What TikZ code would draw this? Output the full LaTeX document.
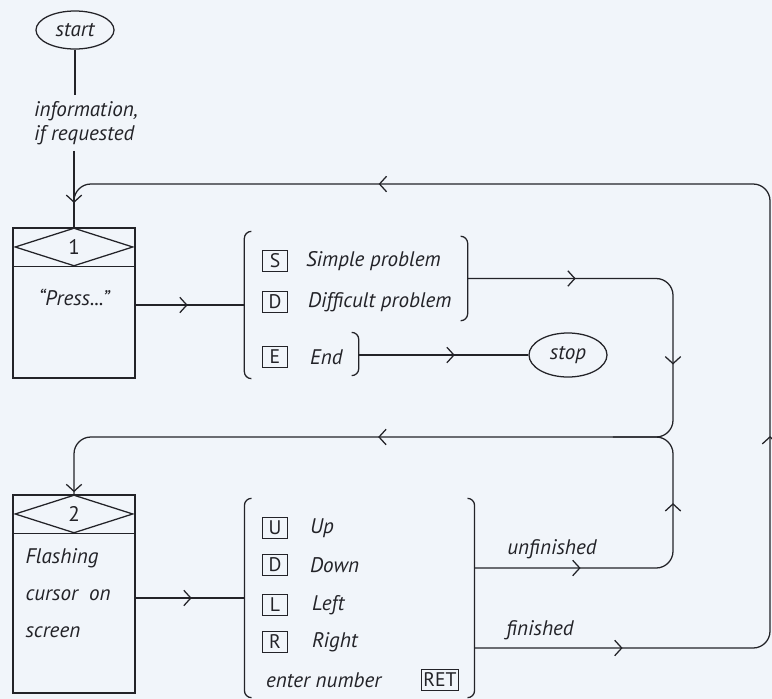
\documentclass[tikz,border=0pt]{standalone}
\usepackage{fontspec}
\setmainfont{PT Sans}
\usetikzlibrary{positioning, calc, shapes.geometric, arrows.meta, decorations.markings}
\definecolor{clInk}  {RGB}{ 35, 35, 40}
\definecolor{clPaper}{RGB}{241,245,250}
\tikzset{
  base/.style={
    font=\fontsize{15}{17}\selectfont\itshape, text=clInk
  },
  term/.style={
    base, ellipse, draw=clInk,
    minimum width=1.95cm, minimum height=0.95cm, inner sep=0pt
  },
  screen/.style={
    rectangle, draw=clInk, minimum width=3.05cm
  },
  choice/.style={
    diamond, draw=clInk, text=clInk, font=\fontsize{15}{17}\selectfont,
    minimum width=2.95cm, minimum height=0.95cm, inner sep=0pt
  },
  key/.style={
    rectangle, draw=clInk, text=clInk, font=\fontsize{14}{16}\selectfont,
    minimum width=0.62cm, minimum height=0.53cm, inner sep=1.5pt
  },
  lbl/.style={
    base, inner sep=1pt
  },
  menu/.style={
    rectangle, inner sep=0pt
  },
  line/.style={
    draw=clInk, line width=0.9pt
  },
  brk/.style={
    line, rounded corners=5pt
  },
  tipat/.style={
    postaction={decorate, decoration={markings,
      mark=at position #1 with {\arrow{Straight Barb[length=5pt, width=11pt]}}}}
  }
}

\begin{document}
\begin{tikzpicture}[x=0.025cm, y=-0.025cm, line width=0.9pt]

    % paper
    \fill [clPaper] (0,0) rectangle (772,699);
    \useasboundingbox (0,0) rectangle (772,699);

    % ============================================================
    % LANES FOR THE LOOPS
    % ============================================================
    \coordinate (laneR)  at (673,0);
    \coordinate (laneO)  at (770,0);
    \coordinate (rowTop) at (0,184);
    \coordinate (rowMid) at (0,437);
    \coordinate (rowUn)  at (0,568);
    \coordinate (rowFin) at (0,648);

    % ============================================================
    % START AND SCREEN 1
    % ============================================================
    \node (start) [term] at (75,30) {start};

    \node (info) [lbl, align=left, inner sep=4pt] at (86,123) {
      information,\\
      if requested
    };

    \node (box1) [screen, minimum height=3.75cm] at (74,303) {};
    \node (dia1) [choice, below=0pt of box1.north] {1};
    \node (press) [lbl, below=0.5cm of dia1] {“Press...”};

    % ============================================================
    % MENU 1
    % ============================================================
    \node (menu1)  [menu, minimum width=5.55cm, minimum height=3.65cm] at (356,305) {};
    \node (menuSD) [menu, minimum width=5.55cm, minimum height=2.08cm] at (356,278.5) {};
    \node (menuE)  [menu, minimum width=2.83cm, minimum height=1.05cm] at (301.5,354) {};

    \node (keyS) [key] at (275,261) {S};
    \node (keyD) [key] at (275,302) {D};
    \node (keyE) [key] at (275,357) {E};
    \node (simple)  [lbl, right=0.4cm of keyS] {Simple problem};
    \node (hard)    [lbl, right=0.45cm of keyD] {Difficult problem};
    \node (finish)  [lbl, right=0.5cm of keyE] {End};

    \node (stop) [term, minimum height=1.1cm] at (568,355) {stop};

    % ============================================================
    % SCREEN 2
    % ============================================================
    \node (box2) [screen, minimum height=4.95cm] at (74,594) {};
    \node (dia2) [choice, below=0pt of box2.north] {2};
    \node (cursor) [lbl, align=left, font=\fontsize{15}{26.5}\selectfont\itshape,
      below right=1.3cm and 0.28cm of box2.north west] {
      Flashing\\
      cursor~~on\\
      screen
    };

    % ============================================================
    % MENU 2
    % ============================================================
    \node (menu2) [menu, minimum width=5.72cm, minimum height=4.95cm] at (359.5,598) {};

    \node (keyU) [key] at (275,528) {U};
    \node (keyDn)[key] at (275,565) {D};
    \node (keyL) [key] at (275,605) {L};
    \node (keyR) [key] at (275,642) {R};
    \node (up)    [lbl, right=0.5cm of keyU] {Up};
    \node (down)  [lbl, right=0.5cm of keyDn] {Down};
    \node (left)  [lbl, right=0.55cm of keyL] {Left};
    \node (right) [lbl, right=0.55cm of keyR] {Right};
    \node (enter) [lbl, anchor=west] at (264,680) {enter number};
    \node (keyRet)[key] at (440,680) {RET};

    \node (unfin) [lbl] at (552,549) {unfinished};
    \node (fin)   [lbl] at (540,630) {finished};

    % ============================================================
    % BRACKETS
    % ============================================================
    \draw [brk] ([xshift=5pt]menu1.north west) -- (menu1.north west)
      -- (menu1.south west) -- ([xshift=5pt]menu1.south west);
    \draw [brk] ([xshift=-5pt]menuSD.north east) -- (menuSD.north east)
      -- (menuSD.south east) -- ([xshift=-5pt]menuSD.south east);
    \draw [brk] ([xshift=-5pt]menuE.north east) -- (menuE.north east)
      -- (menuE.south east) -- ([xshift=-5pt]menuE.south east);
    \draw [brk] ([xshift=5pt]menu2.north west) -- (menu2.north west)
      -- (menu2.south west) -- ([xshift=5pt]menu2.south west);
    \draw [brk] ([xshift=-5pt]menu2.north east) -- (menu2.north east)
      -- (menu2.south east) -- ([xshift=-5pt]menu2.south east);

    % header lines under the diamonds
    \draw [line] (dia1.south -| box1.west) -- (dia1.south -| box1.east);
    \draw [line] (dia2.south -| box2.west) -- (dia2.south -| box2.east);

    % ============================================================
    % CONNECTIONS
    % ============================================================
    % Downward flow
    \draw [line] (start.south) -- (start.south |- info.north);
    \draw [line, tipat=1.3cm] (info.south -| box1.north) -- (box1.north);
    \draw [line, tipat=1.3cm] (box1.east |- menu1.west) -- (menu1.west);
    \draw [line, tipat=1.4cm] (box2.east |- menu2.west) -- (menu2.west);
    \draw [line, tipat=2.4cm] (menuE.east |- stop.west) -- (stop.west);

    % Problem chosen: back round to screen 2
    \draw [line, rounded corners=12pt, tipat=2.7cm, tipat=7.1cm, tipat=16.1cm, tipat=24.9cm]
      (menuSD.east) -- (menuSD.east -| laneR) -- (laneR |- rowMid)
      -- (box2.north |- rowMid) -- (box2.north);

    % Unfinished: join the same loop
    \draw [line, rounded corners=12pt, tipat=2.65cm, tipat=6.4cm]
      (menu2.east |- rowUn) -- (laneR |- rowUn) -- (laneR |- rowMid)
      -- ([xshift=-1.5cm]laneR |- rowMid);

    % Finished: outer loop back to screen 1
    \draw [line, rounded corners=12pt, tipat=3.7cm, tipat=12.5cm, tipat=28.4cm]
      (menu2.east |- rowFin) -- (laneO |- rowFin) -- (laneO |- rowTop)
      -- (box1.north |- rowTop) -- (box1.north);

\end{tikzpicture}
\end{document}
